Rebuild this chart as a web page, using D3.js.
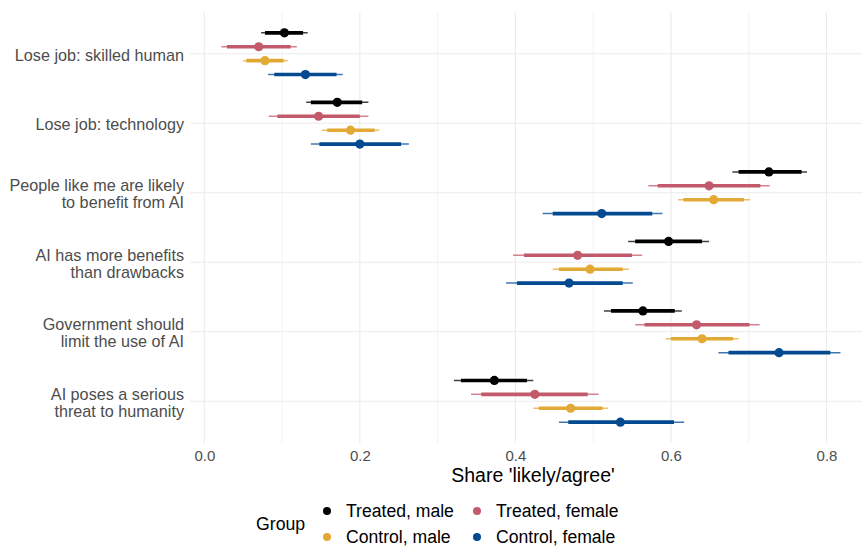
<!DOCTYPE html>
<html>
<head>
<meta charset="utf-8">
<script src="https://cdn.jsdelivr.net/npm/d3@7"></script>
<style>
  body { margin: 0; background: #fff; }
  svg { display: block; font-family: "Liberation Sans", Arial, Helvetica, sans-serif; }
</style>
</head>
<body>
<svg id="viz" width="862" height="546"></svg>
<script>
/* ---------- data ---------- */
const categories = [
  "Lose job: skilled human",
  "Lose job: technology",
  "People like me are likely\nto benefit from AI",
  "AI has more benefits\nthan drawbacks",
  "Government should\nlimit the use of AI",
  "AI poses a serious\nthreat to humanity"
];

const groups = ["Treated, male", "Treated, female", "Control, male", "Control, female"];
const groupColors = ["#000000", "#C25A6B", "#E2A934", "#034A91"];

// point estimates, one array per group (in category order)
const estTreatedMale   = [0.103, 0.171, 0.726, 0.597, 0.564, 0.373];
const estTreatedFemale = [0.070, 0.147, 0.649, 0.480, 0.633, 0.425];
const estControlMale   = [0.078, 0.188, 0.655, 0.496, 0.640, 0.471];
const estControlFemale = [0.130, 0.200, 0.511, 0.469, 0.739, 0.535];

// wide interval (thin line), rows = groups
const outerLo = [
  [0.073, 0.131, 0.679, 0.545, 0.514, 0.321],
  [0.022, 0.083, 0.571, 0.397, 0.554, 0.343],
  [0.050, 0.151, 0.609, 0.448, 0.593, 0.423],
  [0.082, 0.137, 0.435, 0.388, 0.661, 0.456]
];
const outerHi = [
  [0.133, 0.211, 0.775, 0.649, 0.614, 0.423],
  [0.119, 0.211, 0.727, 0.563, 0.714, 0.507],
  [0.107, 0.225, 0.702, 0.546, 0.687, 0.519],
  [0.178, 0.263, 0.589, 0.551, 0.818, 0.617]
];
// narrow interval (thick line)
const innerLo = [
  [0.078, 0.137, 0.687, 0.554, 0.523, 0.330],
  [0.029, 0.094, 0.583, 0.411, 0.566, 0.356],
  [0.054, 0.158, 0.616, 0.456, 0.600, 0.430],
  [0.090, 0.148, 0.448, 0.402, 0.674, 0.468]
];
const innerHi = [
  [0.127, 0.203, 0.768, 0.640, 0.605, 0.415],
  [0.111, 0.200, 0.715, 0.550, 0.701, 0.493],
  [0.102, 0.219, 0.694, 0.538, 0.680, 0.512],
  [0.170, 0.253, 0.576, 0.538, 0.805, 0.604]
];

const xDomain = [-0.0184, 0.8637];
const xTicks = [0, 0.2, 0.4, 0.6, 0.8];
const xMinor = [0.1, 0.3, 0.5, 0.7];

/* ---------- build rows ---------- */
const estimates = [estTreatedMale, estTreatedFemale, estControlMale, estControlFemale];
const rows = [];
groups.forEach((g, gi) => {
  categories.forEach((c, ci) => {
    rows.push({
      cat: c, group: g,
      est: estimates[gi][ci],
      olo: outerLo[gi][ci], ohi: outerHi[gi][ci],
      ilo: innerLo[gi][ci], ihi: innerHi[gi][ci]
    });
  });
});

/* ---------- layout ---------- */
const svg = d3.select("#viz");
const panel = { left: 190, right: 876, top: 12, bottom: 443 };

const x = d3.scaleLinear().domain(xDomain).range([panel.left, panel.right]);

const y = d3.scalePoint().domain(categories)
  .range([panel.top, panel.bottom]).padding(0.6);

const dodge = d3.scalePoint().domain(groups).range([-0.3, 0.3]);
const yPos = d => y(d.cat) + dodge(d.group) * y.step();

const color = d3.scaleOrdinal().domain(groups).range(groupColors);

/* ---------- grid ---------- */
const grid = svg.append("g").attr("class", "grid");
grid.selectAll("line.minor")
  .data(xMinor)
  .join("line")
  .attr("class", "minor")
  .attr("x1", d => x(d)).attr("x2", d => x(d))
  .attr("y1", panel.top).attr("y2", panel.bottom)
  .attr("stroke", "#EBEBEB").attr("stroke-width", 0.6);

grid.selectAll("line.major")
  .data(xTicks)
  .join("line")
  .attr("class", "major")
  .attr("x1", d => x(d)).attr("x2", d => x(d))
  .attr("y1", panel.top).attr("y2", panel.bottom)
  .attr("stroke", "#EBEBEB").attr("stroke-width", 1.1);

grid.selectAll("line.hmajor")
  .data(categories)
  .join("line")
  .attr("class", "hmajor")
  .attr("x1", panel.left).attr("x2", panel.right)
  .attr("y1", d => y(d)).attr("y2", d => y(d))
  .attr("stroke", "#EBEBEB").attr("stroke-width", 1.1);

/* ---------- marks ---------- */
const marks = svg.append("g").attr("class", "marks");

marks.selectAll("line.outer")
  .data(rows)
  .join("line")
  .attr("class", "outer")
  .attr("x1", d => x(d.olo)).attr("x2", d => x(d.ohi))
  .attr("y1", yPos).attr("y2", yPos)
  .attr("stroke", d => color(d.group))
  .attr("stroke-opacity", 0.75)
  .attr("stroke-width", 1.5);

marks.selectAll("line.inner")
  .data(rows)
  .join("line")
  .attr("class", "inner")
  .attr("x1", d => x(d.ilo)).attr("x2", d => x(d.ihi))
  .attr("y1", yPos).attr("y2", yPos)
  .attr("stroke", d => color(d.group))
  .attr("stroke-width", 3.6);

marks.selectAll("circle")
  .data(rows)
  .join("circle")
  .attr("cx", d => x(d.est))
  .attr("cy", yPos)
  .attr("r", 4.6)
  .attr("fill", d => color(d.group));

/* ---------- axes ---------- */
const xAxis = svg.append("g")
  .attr("transform", `translate(0,${panel.bottom})`)
  .call(d3.axisBottom(x).tickValues(xTicks).tickFormat(d3.format(".1f")).tickSize(0).tickPadding(7.5));
xAxis.select(".domain").remove();
xAxis.selectAll("text")
  .attr("fill", "#4D4D4D").attr("font-size", 15).attr("font-family", null);

const yAxis = svg.append("g")
  .attr("transform", `translate(${panel.left},0)`)
  .call(d3.axisLeft(y).tickSize(0).tickFormat(""));
yAxis.select(".domain").remove();
yAxis.selectAll(".tick").each(function(d) {
  const lines = d.split("\n");
  const t = d3.select(this).append("text")
    .attr("text-anchor", "end")
    .attr("fill", "#4D4D4D")
    .attr("font-size", 16.2);
  lines.forEach((ln, i) => {
    t.append("tspan")
      .attr("x", -6)
      .attr("y", (i - (lines.length - 1) / 2) * 17 + 6.5)
      .text(ln);
  });
});

svg.append("text")
  .attr("x", (panel.left + panel.right) / 2)
  .attr("y", 482)
  .attr("text-anchor", "middle")
  .attr("font-size", 19.5)
  .attr("fill", "#000")
  .text("Share 'likely/agree'");

/* ---------- legend ---------- */
const legend = svg.append("g").attr("class", "legend");
legend.append("text")
  .attr("x", 256).attr("y", 530)
  .attr("font-size", 17.7)
  .attr("fill", "#000")
  .text("Group");

const legendPos = [[327, 511], [477, 511], [327, 537], [477, 537]];
const item = legend.selectAll("g.item")
  .data(groups)
  .join("g")
  .attr("class", "item")
  .attr("transform", (d, i) => `translate(${legendPos[i][0]},${legendPos[i][1]})`);
item.append("circle").attr("r", 4).attr("fill", d => color(d));
item.append("text")
  .attr("x", 19).attr("y", 5.5)
  .attr("font-size", 17.6)
  .attr("fill", "#000")
  .text(d => d);
</script>
</body>
</html>
